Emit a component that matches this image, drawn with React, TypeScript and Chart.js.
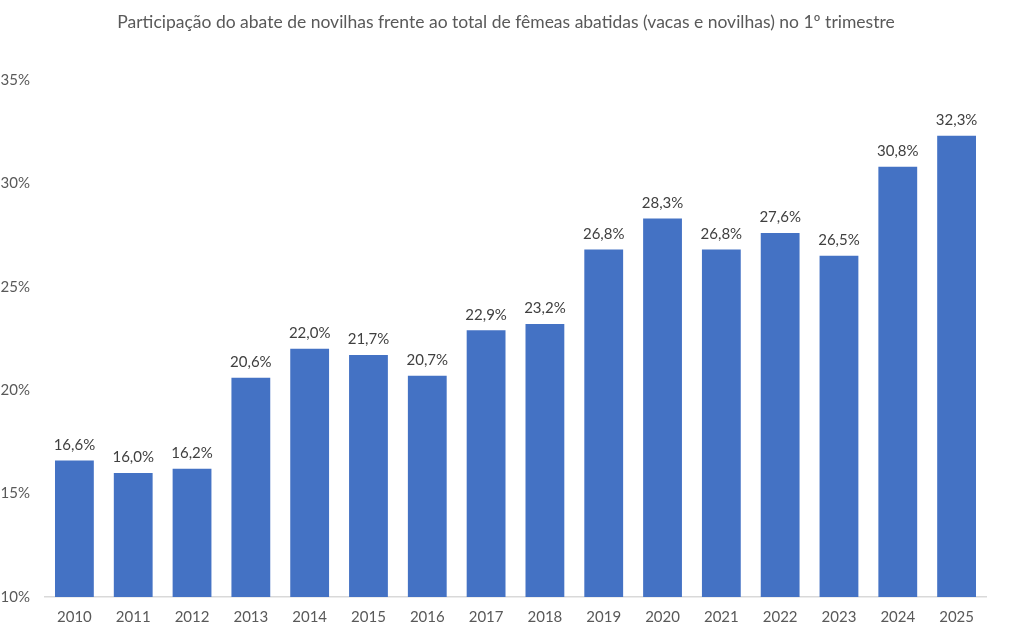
import React, { useEffect, useRef } from "react";
import { Chart, registerables } from "chart.js";

Chart.register(...registerables);

const years = ["2010","2011","2012","2013","2014","2015","2016","2017","2018","2019","2020","2021","2022","2023","2024","2025"];
const shares = [16.6, 16.0, 16.2, 20.6, 22.0, 21.7, 20.7, 22.9, 23.2, 26.8, 28.3, 26.8, 27.6, 26.5, 30.8, 32.3];
const titleText = "Participação do abate de novilhas frente ao total de fêmeas abatidas (vacas e novilhas) no 1º trimestre";

const FONT = "Lato, 'Open Sans', sans-serif";

// Writes each bar's value (pt-BR decimal comma) just above the bar
const valueLabels = {
  id: "valueLabels",
  afterDatasetsDraw(chart: any) {
    const ctx = chart.ctx;
    const meta = chart.getDatasetMeta(0);
    const data = chart.data.datasets[0].data as number[];
    ctx.save();
    ctx.font = `15px ${FONT}`;
    ctx.fillStyle = "#404040";
    ctx.textAlign = "center";
    ctx.textBaseline = "bottom";
    meta.data.forEach((bar: any, i: number) => {
      const txt = data[i].toFixed(1).replace(".", ",") + "%";
      ctx.fillText(txt, bar.x, bar.y - 8);
    });
    ctx.restore();
  },
};

// Chart heading, centred on the whole canvas width
const heading = {
  id: "heading",
  afterDraw(chart: any) {
    const ctx = chart.ctx;
    ctx.save();
    ctx.font = `17.5px ${FONT}`;
    ctx.fillStyle = "#595959";
    ctx.textAlign = "center";
    ctx.textBaseline = "middle";
    ctx.fillText(titleText, chart.width / 2, 22);
    ctx.restore();
  },
};

export default function App() {
  const ref = useRef<HTMLCanvasElement>(null);

  useEffect(() => {
    if (!ref.current) return;
    const chart = new Chart(ref.current, {
      type: "bar",
      data: {
        labels: years,
        datasets: [
          {
            data: shares,
            backgroundColor: "#4472C4",
            barPercentage: 0.66,
            categoryPercentage: 1,
          },
        ],
      },
      options: {
        animation: false,
        responsive: false,
        layout: { padding: { left: 0, right: 26, top: 80, bottom: 2 } },
        plugins: {
          legend: { display: false },
          tooltip: { enabled: false },
          title: { display: false },
        },
        scales: {
          x: {
            grid: { display: false, drawTicks: false },
            border: { display: true, color: "#d9d9d9", width: 1.5 },
            afterFit: (s: any) => {
              s.height = 30;
            },
            ticks: {
              color: "#595959",
              font: { family: FONT, size: 15 },
              padding: 11,
            },
          },
          y: {
            min: 10,
            max: 35,
            grid: { display: false, drawTicks: false },
            border: { display: false },
            afterFit: (s: any) => {
              s.width = 45;
            },
            ticks: {
              stepSize: 5,
              color: "#595959",
              font: { family: FONT, size: 15 },
              padding: 15,
              callback: (v: any) => `${v}%`,
            },
          },
        },
      },
      plugins: [valueLabels, heading],
    });
    return () => chart.destroy();
  }, []);

  return (
    <div style={{ position: "fixed", left: 0, top: 0, width: 1012, height: 629, background: "#fff" }}>
      <canvas ref={ref} width={1012} height={629} />
    </div>
  );
}
